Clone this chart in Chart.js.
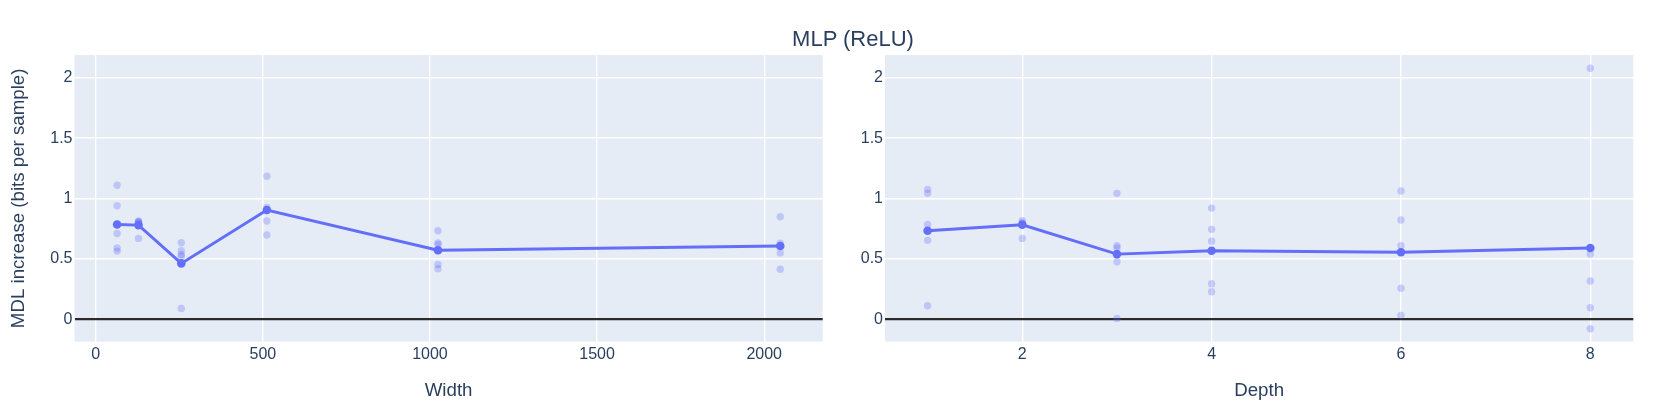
<!DOCTYPE html>
<html>
<head>
<meta charset="utf-8">
<script src="https://cdn.jsdelivr.net/npm/chart.js@4.4.1/dist/chart.umd.min.js"></script>
<style>
  body { margin: 0; background: #fff; }
  #wrap { position: relative; width: 1661px; height: 415px; overflow: hidden; }
  #title {
    position: absolute; left: 853px; top: 39px; transform: translate(-50%, -50%);
    font-family: "Liberation Sans", Arial, sans-serif; font-size: 22px; color: #2a3f5f; white-space: nowrap;
  }
  canvas { position: absolute; top: 0; }
</style>
</head>
<body>
<div id="wrap">
  <canvas id="widthChart" width="830" height="415" style="left:0"></canvas>
  <canvas id="depthChart" width="831" height="415" style="left:830px"></canvas>
  <div id="title">MLP (ReLU)</div>
</div>
<script>
// Left panel: width sweep
const widths = [64, 128, 256, 512, 1024, 2048];
const widthMean = [0.785, 0.78, 0.463, 0.905, 0.572, 0.607];
const widthRuns = [
    [1.11, 0.94, 0.71, 0.59, 0.565],
    [0.815, 0.81, 0.80, 0.80, 0.67],
    [0.634, 0.568, 0.538, 0.52, 0.09],
    [1.184, 0.927, 0.814, 0.698],
    [0.733, 0.632, 0.62, 0.455, 0.419],
    [0.85, 0.63, 0.55, 0.415]
];
const widthTicks = [0, 500, 1000, 1500, 2000];

// Right panel: depth sweep
const depths = [1, 2, 3, 4, 6, 8];
const depthMean = [0.733, 0.783, 0.54, 0.568, 0.555, 0.59];
const depthRuns = [
    [1.076, 1.043, 0.786, 0.654, 0.113],
    [0.816, 0.80, 0.79, 0.67],
    [1.043, 0.609, 0.59, 0.477, 0.008],
    [0.921, 0.745, 0.646, 0.295, 0.229],
    [1.062, 0.822, 0.609, 0.257, 0.033],
    [2.078, 0.54, 0.317, 0.096, -0.078]
];
const depthTicks = [2, 4, 6, 8];

const yTicks = [0, 0.5, 1, 1.5, 2];

const FONT = '"Liberation Sans", Arial, sans-serif';
const TEXT = '#2a3f5f';
const BLUE = '#636efa';

const plotBg = {
    id: 'plotBg',
    beforeDraw(chart) {
        const a = chart.chartArea;
        chart.ctx.save();
        chart.ctx.fillStyle = '#e5ecf6';
        chart.ctx.fillRect(a.left, a.top, a.right - a.left, a.bottom - a.top);
        chart.ctx.restore();
    }
};

function makeChart(id, xs, means, runs, xTicks, xRange, xTitle, yTitle, leftW, padRight) {
    const runPoints = [];
    xs.forEach((x, i) => runs[i].forEach(v => runPoints.push({ x: x, y: v })));
    const meanPoints = xs.map((x, i) => ({ x: x, y: means[i] }));

    new Chart(document.getElementById(id), {
        type: 'scatter',
        data: {
            datasets: [
                {
                    data: meanPoints,
                    showLine: true,
                    borderColor: BLUE,
                    backgroundColor: BLUE,
                    borderWidth: 2.9,
                    pointRadius: 4.3,
                    pointBorderWidth: 0,
                    tension: 0
                },
                {
                    data: runPoints,
                    backgroundColor: 'rgba(99,110,250,0.3)',
                    pointRadius: 3.7,
                    pointBorderWidth: 0
                }
            ]
        },
        options: {
            responsive: false,
            animation: false,
            events: [],
            layout: { padding: { top: 55, right: padRight, left: 0, bottom: 0 } },
            plugins: { legend: { display: false }, tooltip: { enabled: false } },
            scales: {
                x: {
                    type: 'linear',
                    min: xRange[0],
                    max: xRange[1],
                    afterBuildTicks: s => { s.ticks = xTicks.map(v => ({ value: v })); },
                    afterFit: s => { s.height = 73.3; },
                    border: { display: false },
                    grid: { color: '#fff', lineWidth: 1.4, drawTicks: false },
                    ticks: {
                        color: TEXT, padding: 3, maxRotation: 0,
                        font: { family: FONT, size: 16 },
                        callback: v => String(v)
                    },
                    title: {
                        display: true, text: xTitle, color: TEXT,
                        font: { family: FONT, size: 18.7 },
                        padding: { top: 0, bottom: 12.8 }
                    }
                },
                y: {
                    min: -0.185,
                    max: 2.188,
                    afterBuildTicks: s => { s.ticks = yTicks.map(v => ({ value: v })); },
                    afterFit: s => { s.width = leftW; },
                    border: { display: false },
                    grid: {
                        drawTicks: false,
                        color: c => c.tick && c.tick.value === 0 ? '#2b2b2b' : '#fff',
                        lineWidth: c => c.tick && c.tick.value === 0 ? 2.2 : 1.4
                    },
                    ticks: {
                        color: TEXT, padding: 2,
                        font: { family: FONT, size: 16 },
                        callback: v => String(v)
                    },
                    title: {
                        display: !!yTitle, text: yTitle, color: TEXT,
                        font: { family: FONT, size: 18.7 },
                        padding: { top: 7.3, bottom: 0 }
                    }
                }
            }
        },
        plugins: [plotBg]
    });
}

makeChart('widthChart', widths, widthMean, widthRuns, widthTicks, [-63.5, 2175], 'Width',
    'MDL increase (bits per sample)', 74.5, 7.3);
makeChart('depthChart', depths, depthMean, depthRuns, depthTicks, [0.55, 8.454], 'Depth',
    '', 55, 27.7);
</script>
</body>
</html>
